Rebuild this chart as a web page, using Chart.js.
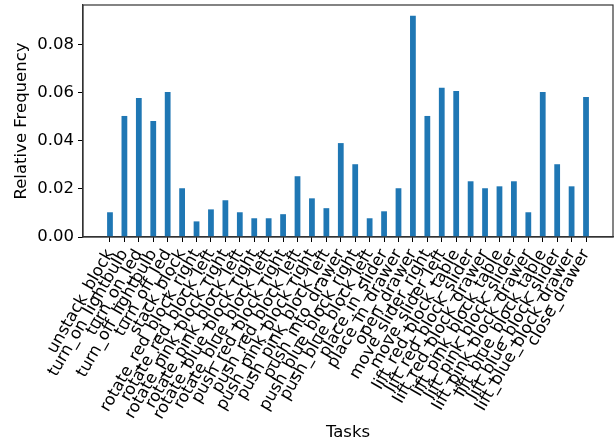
<!DOCTYPE html>
<html>
<head>
<meta charset="utf-8">
<script src="https://cdn.jsdelivr.net/npm/chart.js@4"></script>
<style>
  html, body { margin: 0; padding: 0; background: #fff; }
  #wrap { width: 616px; height: 447px; }
</style>
</head>
<body>
<div id="wrap"><canvas id="myChart"></canvas></div>
<script>
const tasks = [
    'unstack_block', 'turn_on_lightbulb', 'turn_on_led', 'turn_off_lightbulb', 'turn_off_led',
    'stack_block', 'rotate_red_block_right', 'rotate_red_block_left', 'rotate_pink_block_right',
    'rotate_pink_block_left', 'rotate_blue_block_right', 'rotate_blue_block_left',
    'push_red_block_right', 'push_red_block_left', 'push_pink_block_right', 'push_pink_block_left',
    'push_into_drawer', 'push_blue_block_right', 'push_blue_block_left', 'place_in_slider',
    'place_in_drawer', 'open_drawer', 'move_slider_right', 'move_slider_left',
    'lift_red_block_table', 'lift_red_block_slider', 'lift_red_block_drawer',
    'lift_pink_block_table', 'lift_pink_block_slider', 'lift_pink_block_drawer',
    'lift_blue_block_table', 'lift_blue_block_slider', 'lift_blue_block_drawer', 'close_drawer'
];
const frequencies = [
    0.0103, 0.0504, 0.0579, 0.0483, 0.0604,
    0.0203, 0.0065, 0.0115, 0.0153,
    0.0103, 0.0078, 0.0078,
    0.0095, 0.0253, 0.0161, 0.0120,
    0.0391, 0.0303, 0.0078, 0.0107,
    0.0203, 0.0921, 0.0504, 0.0621,
    0.0608, 0.0232, 0.0203,
    0.0211, 0.0232, 0.0103,
    0.0604, 0.0303, 0.0211, 0.0583
];
const yTicks = [0, 0.02, 0.04, 0.06, 0.08];

const font = { family: 'DejaVu Sans', size: 16.5 };

// box around the plot area like matplotlib spines
const frame = {
    id: 'frame',
    afterDraw(chart) {
        const a = chart.chartArea;
        const c = chart.ctx;
        c.save();
        c.strokeStyle = '#333';
        c.lineWidth = 1.2;
        c.strokeRect(a.left, a.top, a.right - a.left, a.bottom - a.top);
        c.restore();
    }
};

const ctx = document.getElementById('myChart');
new Chart(ctx, {
    type: 'bar',
    data: {
        datasets: [{
            data: tasks.map((t, i) => ({ x: i, y: frequencies[i] })),
            backgroundColor: '#1f77b4',
            borderWidth: 0,
            categoryPercentage: 1,
            barPercentage: 0.4
        }]
    },
    options: {
        responsive: true,
        maintainAspectRatio: false,
        animation: false,
        devicePixelRatio: 1,
        layout: { padding: { top: 5, right: 3, left: 0, bottom: 0 } },
        plugins: { legend: { display: false }, tooltip: { enabled: false } },
        scales: {
            x: {
                type: 'linear',
                offset: false,
                min: -1.87,
                max: 34.87,
                afterBuildTicks: (scale) => { scale.ticks = tasks.map((t, i) => ({ value: i })); },
                afterFit: (scale) => { scale.height = 210; scale.paddingRight = 0; },
                ticks: {
                    autoSkip: false,
                    minRotation: 60,
                    maxRotation: 60,
                    padding: 4,
                    color: '#000',
                    font: font,
                    callback: (v) => tasks[v]
                },
                grid: { offset: false, drawOnChartArea: false, drawTicks: true, tickLength: 5, tickColor: '#000' },
                border: { display: true, color: '#333', width: 1.2 },
                title: { display: true, text: 'Tasks', color: '#000', font: font, padding: { top: 0, bottom: 4 } }
            },
            y: {
                min: 0,
                max: 0.0966,
                afterBuildTicks: (scale) => { scale.ticks = yTicks.map(v => ({ value: v })); },
                afterFit: (scale) => { scale.width = 83; scale.paddingTop = 0; scale.paddingBottom = 0; },
                ticks: {
                    includeBounds: false,
                    padding: 4,
                    color: '#000',
                    font: font,
                    callback: (v) => v.toFixed(2)
                },
                grid: { drawOnChartArea: false, drawTicks: true, tickLength: 5, tickColor: '#000' },
                border: { display: true, color: '#333', width: 1.2 },
                title: { display: true, text: 'Relative Frequency', color: '#000', font: font, padding: { top: 12, bottom: 0 } }
            }
        }
    },
    plugins: [frame]
});
</script>
</body>
</html>
